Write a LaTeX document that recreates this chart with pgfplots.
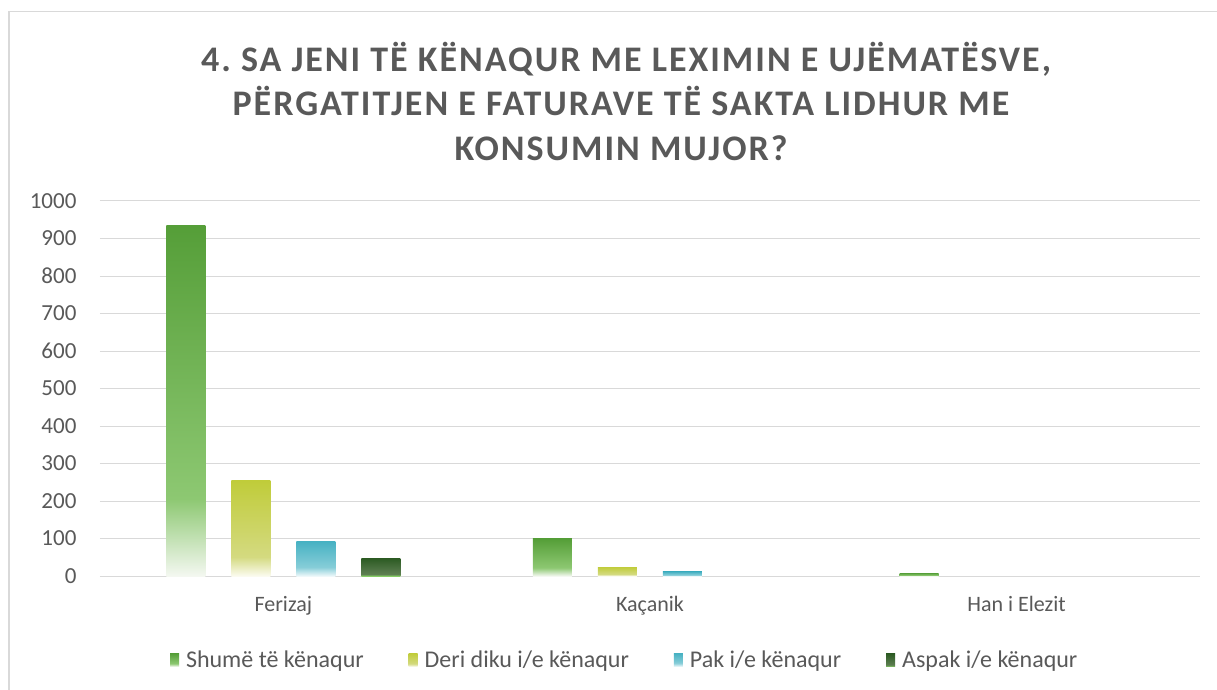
\documentclass[border=0pt]{standalone}
\usepackage{fontspec}
\setmainfont{Carlito}
\newfontfamily\titlefont[LetterSpace=5.5]{Carlito}
\usepackage{pgfplots}
\pgfplotsset{compat=1.18}
\definecolor{gtop}{HTML}{559E38}
\definecolor{gmid}{HTML}{8DC872}
\definecolor{gbot}{HTML}{F4F8F1}
\definecolor{ytop}{HTML}{C0CC3A}
\definecolor{ymid}{HTML}{D4DA80}
\definecolor{ybot}{HTML}{FBFBF0}
\definecolor{ctop}{HTML}{48B2C3}
\definecolor{cmid}{HTML}{86CDD8}
\definecolor{cbot}{HTML}{EEF8FA}
\definecolor{dtop}{HTML}{2B5A22}
\definecolor{dmid}{HTML}{5E7F52}
\definecolor{dbot}{HTML}{86CD66}
\definecolor{txtgray}{HTML}{595959}
\definecolor{gridgray}{HTML}{D9D9D9}
\pgfdeclareverticalshading{shg}{100bp}{color(0bp)=(gbot); color(25bp)=(gbot); color(36bp)=(gmid); color(75bp)=(gtop); color(100bp)=(gtop)}
\pgfdeclareverticalshading{shy}{100bp}{color(0bp)=(ybot); color(25bp)=(ybot); color(35bp)=(ymid); color(75bp)=(ytop); color(100bp)=(ytop)}
\pgfdeclareverticalshading{shc}{100bp}{color(0bp)=(cbot); color(25bp)=(cbot); color(38bp)=(cmid); color(75bp)=(ctop); color(100bp)=(ctop)}
\pgfdeclareverticalshading{shd}{100bp}{color(0bp)=(dbot); color(25bp)=(dbot); color(30bp)=(dmid); color(75bp)=(dtop); color(100bp)=(dtop)}
\begin{document}
\frenchspacing
\begin{tikzpicture}
\useasboundingbox (0,0) rectangle (1217pt,689pt);
\draw[gridgray, line width=1.5pt] (9pt,-5pt) -- (9pt,677.5pt) -- (1222pt,677.5pt);
\begin{scope}[every node/.style={text=txtgray, font=\titlefont\fontsize{36}{42}\selectfont\bfseries, anchor=base}]
\node at (626pt,617pt) {4. SA JENI TË KËNAQUR ME LEXIMIN E UJËMATËSVE,};
\node at (621pt,573pt) {PËRGATITJEN E FATURAVE TË SAKTA LIDHUR ME};
\node at (621pt,528pt) {KONSUMIN MUJOR?};
\end{scope}
\begin{axis}[
  at={(100pt,113pt)}, anchor=south west,
  scale only axis, width=1100pt, height=375pt,
  xmin=-0.5, xmax=2.5, ymin=0, ymax=1000,
  ytick={0,100,...,1000},
  xtick={0,1,2}, xticklabels={Ferizaj,Kaçanik,Han i Elezit},
  major tick length=0pt,
  axis line style={draw=none},
  ymajorgrids, grid style={gridgray, line width=1pt},
  /pgf/number format/assume math mode=true,
  /pgf/number format/1000 sep={},
  ticklabel style={text=txtgray},
  yticklabel style={xshift=-20pt, font=\fontsize{23}{27}\selectfont},
  xticklabel style={yshift=-17pt, font=\fontsize{22}{26}\selectfont},
  ybar, bar width=39pt,
  legend style={draw=none, at={(0.477,-0.224)}, anchor=center, legend columns=4,
    font=\fontsize{24}{28}\selectfont, text=txtgray,
    /tikz/every odd column/.append style={column sep=5pt},
    /tikz/every even column/.append style={column sep=43pt}},
  legend image code/.code={\path[#1, draw=none] (0pt,-6.5pt) rectangle (9pt,6.5pt);},
]
\addplot[draw=none, shade, shading=shg, bar shift=-97.5pt] coordinates {(0,936)};
\addplot[draw=none, shade, shading=shy, bar shift=-32.5pt] coordinates {(0,254)};
\addplot[draw=none, shade, shading=shc, bar shift=32.5pt] coordinates {(0,91)};
\addplot[draw=none, shade, shading=shd, bar shift=97.5pt] coordinates {(0,48)};
\addplot[forget plot, draw=none, shade, shading=shg, bar shift=-97.5pt] coordinates {(1,99)};
\addplot[forget plot, draw=none, shade, shading=shg, bar shift=-97.5pt] coordinates {(2,8)};
\addplot[forget plot, draw=none, shade, shading=shy, bar shift=-32.5pt] coordinates {(1,24)};
\addplot[forget plot, draw=none, shade, shading=shc, bar shift=32.5pt] coordinates {(1,11)};
\legend{Shumë të kënaqur, Deri diku i/e kënaqur, Pak i/e kënaqur, Aspak i/e kënaqur}
\end{axis}
\end{tikzpicture}
\end{document}
